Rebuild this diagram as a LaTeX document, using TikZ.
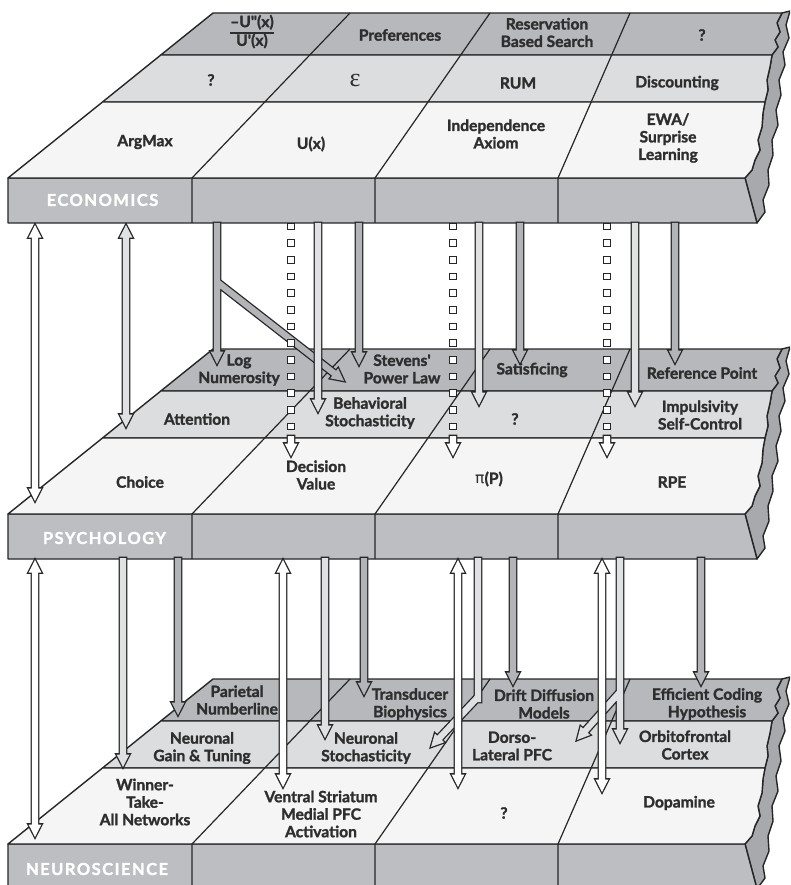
\documentclass[tikz,border=0pt]{standalone}
\usepackage{fontspec}
\setmainfont{Lato}[BoldFeatures={FakeBold=1.6}]
\newfontfamily\labfont{Lato}[LetterSpace=9,BoldFeatures={FakeBold=1.6}]
\newfontfamily\dvsans{DejaVu Sans}
\newfontfamily\lserif{Liberation Serif}
\usetikzlibrary{calc,decorations.markings}
\definecolor{linec}{HTML}{262626}
\definecolor{txtc}{HTML}{2E2E2E}
\definecolor{backc}{HTML}{B7B8BB}
\definecolor{facec}{HTML}{BDBEC1}
\definecolor{midc}{HTML}{DCDDDF}
\definecolor{frontc}{HTML}{F5F5F5}
\definecolor{sidec}{HTML}{A8A9AC}
\definecolor{darkA}{HTML}{B3B4B7}
\definecolor{lightA}{HTML}{E0E1E3}
\def\arrSW{3.1pt}
\def\arrHW{6.4pt}
\def\arrHL{12.5pt}
\tikzset{
  slabline/.style={draw=linec, line width=1.4pt, line join=round},
  divline/.style={draw=linec, line width=1.2pt},
  txt/.style={font=\fontsize{15.6}{17.5}\selectfont\bfseries, text=txtc, align=center, inner sep=0pt},
  seclab/.style={font=\labfont\bfseries\fontsize{16.5}{16.5}\selectfont, text=white, inner sep=0pt},
  arrbody/.style={line join=miter, preaction={draw=linec, line width=2.6pt, line join=miter}},
  sqmarks/.style={postaction={decorate}, decoration={markings,
     mark=between positions 0 and 1 step 16.67pt with {\draw[draw=linec, fill=white, line width=1.1pt] (-3.4pt,-3.4pt) rectangle (3.4pt,3.4pt);}}}
}
\newcommand\sgl[3]{($(#1)!\arrSW!90:(#2)$) -- ($(#3)!\arrSW!90:(#2)$) -- ($(#3)!\arrHW!90:(#2)$) -- (#2) -- ($(#3)!\arrHW!-90:(#2)$) -- ($(#3)!\arrSW!-90:(#2)$) -- ($(#1)!\arrSW!-90:(#2)$) -- cycle }
\newcommand\shaft[2]{($(#1)!\arrSW!90:(#2)$) -- ($(#2)!\arrSW!-90:(#1)$) -- ($(#2)!\arrSW!90:(#1)$) -- ($(#1)!\arrSW!-90:(#2)$) -- cycle }
\newcommand\dbl[4]{(#1) -- ($(#3)!\arrHW!90:(#2)$) -- ($(#3)!\arrSW!90:(#2)$) -- ($(#4)!\arrSW!90:(#2)$) -- ($(#4)!\arrHW!90:(#2)$) -- (#2) -- ($(#4)!\arrHW!-90:(#2)$) -- ($(#4)!\arrSW!-90:(#2)$) -- ($(#3)!\arrSW!-90:(#2)$) -- ($(#3)!\arrHW!-90:(#2)$) -- cycle }
\newcommand\sarrow[4]{\coordinate (#4hb) at ($(#3)!\arrHL!(#2)$);\path[arrbody, fill=#1] \sgl{#2}{#3}{#4hb};}
\newcommand\darrow[4]{\coordinate (#4ha) at ($(#2)!\arrHL!(#3)$);\coordinate (#4hb) at ($(#3)!\arrHL!(#2)$);\path[arrbody, fill=#1] \dbl{#2}{#3}{#4ha}{#4hb};}
\newcommand\sqchain[2]{\coordinate (#2s) at (#1,226.5);\coordinate (#2e) at (#1,427);
  \path[sqmarks] (#2s) -- (#2e);
  \coordinate (#2h1) at (#1,436);\coordinate (#2h2) at (#1,456);
  \sarrow{white}{#2h1}{#2h2}{#2}}
\newcommand\drawslab[1]{%
\begin{scope}[shift={(0,#1)}]
 \filldraw[slabline, fill=sidec] (782,13) -- (790,11) -- (786,25) -- (789,38) -- (783,52) -- (785,65) -- (779,80) -- (781,95) -- (776,110) -- (778,125) -- (772,140) -- (773,155) -- (768,170) -- (769,185) -- (763,200) -- (765,212) -- (757,223) -- (745,178) -- (752,170) -- (755,160) -- (760,150) -- (758,140) -- (762,127) -- (763,113) -- (765,102) -- (768,90) -- (767,80) -- (770,67) -- (772,55) -- (778,47) -- (775,40) -- (780,32) -- (777,23) -- cycle;
 \filldraw[slabline, fill=facec] (8,178) -- (745,178) -- (757,223) -- (8,223) -- cycle;
 \filldraw[slabline, fill=backc] (213,13) -- (782,13) -- (777,23) -- (780,32) -- (775,40) -- (778,47) -- (772,55) -- (160.8,55) -- cycle;
 \filldraw[slabline, fill=midc] (160.8,55) -- (772,55) -- (770,67) -- (767,80) -- (768,90) -- (765,102) -- (102.5,102) -- cycle;
 \filldraw[slabline, fill=frontc] (102.5,102) -- (765,102) -- (763,113) -- (762,127) -- (758,140) -- (760,150) -- (755,160) -- (752,170) -- (745,178) -- (8,178) -- cycle;
 \draw[divline] (350,13) -- (192,178) -- (192,223);
 \draw[divline] (490,13) -- (375,178) -- (375,223);
 \draw[divline] (630,13) -- (558,178) -- (558,223);
\end{scope}}
\begin{document}
\begin{tikzpicture}[x=1pt,y=-1pt]
\useasboundingbox (0,0) rectangle (790,885);
\clip (0,0) rectangle (790,885);
\drawslab{0}
\drawslab{336}
\drawslab{666}
% ---------- Economics texts
\node[txt] (eRA) at (252,33) {\setlength{\arrayrulewidth}{1.2pt}\begin{tabular}{@{}c@{}}\textendash U\textquotedbl(x)\\\hline U\textquotesingle(x)\end{tabular}};
\node[txt] (ePref) at (400,35) {Preferences};
\node[txt] (eRes) at (547,32.5) {Reservation\\Based Search};
\node[txt] (eQa) at (702,35) {?};
\node[txt] (eQb) at (211,80) {?};
\node[txt] (eEps) at (355,81) {\lserif\mdseries\fontsize{26}{26}\selectfont ε};
\node[txt] (eRUM) at (518,83) {RUM};
\node[txt] (eDisc) at (677,83) {Discounting};
\node[txt] (eArg) at (145,142) {ArgMax};
\node[txt] (eU) at (311,144) {U(x)};
\node[txt] (eInd) at (496,134) {Independence\\Axiom};
\node[txt] (eEWA) at (668,138) {EWA/\\Surprise\\Learning};
\node[seclab] (eLab) at (102.5,200) {ECONOMICS};
% ---------- Psychology texts
\node[txt] (pLog) at (239,370) {Log\\Numerosity};
\node[txt] (pSte) at (402,369) {Stevens\textquotesingle\\Power Law};
\node[txt] (pSat) at (532,370) {Satisficing};
\node[txt] (pRef) at (702,373) {Reference Point};
\node[txt] (pAtt) at (197,419) {Attention};
\node[txt] (pBeh) at (370,413) {Behavioral\\Stochasticity};
\node[txt] (pQ) at (515,419) {?};
\node[txt] (pImp) at (700,415) {Impulsivity\\Self-Control};
\node[txt] (pCho) at (140,482) {Choice};
\node[txt] (pDec) at (316,475) {Decision\\Value};
\node[txt] (pPi) at (489,479) {{\dvsans\mdseries π}(P)};
\node[txt] (pRPE) at (672,482) {RPE};
\node[seclab] (pLab) at (104.5,538) {PSYCHOLOGY};
% ---------- Neuroscience texts
\node[txt] (nPar) at (237,700) {Parietal\\Numberline};
\node[txt] (nTra) at (410,704) {Transducer\\Biophysics};
\node[txt] (nDri) at (544,704) {Drift Diffusion\\Models};
\node[txt] (nEff) at (707,704) {Efficient Coding\\Hypothesis};
\node[txt] (nGain) at (202,748) {Neuronal\\Gain \& Tuning};
\node[txt] (nSto) at (366,748) {Neuronal\\Stochasticity};
\node[txt] (nDor) at (512,746) {Dorso-\\Lateral PFC};
\node[txt] (nOrb) at (685,745) {Orbitofrontal\\Cortex};
\node[txt] (nWin) at (145,802) {Winner-\\Take-\\All Networks};
\node[txt] (nVen) at (321,814) {Ventral Striatum\\Medial PFC\\Activation};
\node[txt] (nQ) at (504,813) {?};
\node[txt] (nDop) at (679,803) {Dopamine};
\node[seclab] (nLab) at (97,869) {NEUROSCIENCE};
% ---------- Arrows Economics -> Psychology
\coordinate (c1) at (217,223); \coordinate (c2) at (217,364);
\coordinate (c3) at (217,282); \coordinate (c4) at (344,381);
\coordinate (chb) at ($(c2)!\arrHL!(c1)$); \coordinate (cbhb) at ($(c4)!\arrHL!(c3)$);
\path[arrbody, fill=darkA] \sgl{c3}{c4}{cbhb} \sgl{c1}{c2}{chb};
\sqchain{291}{d}
\sqchain{453}{g}
\sqchain{607}{j}
\coordinate (e1) at (318,223); \coordinate (e2) at (318,412); \sarrow{lightA}{e1}{e2}{e}
\coordinate (f1) at (359,223); \coordinate (f2) at (359,365); \sarrow{darkA}{f1}{f2}{f}
\coordinate (h1) at (479,223); \coordinate (h2) at (479,405); \sarrow{lightA}{h1}{h2}{h}
\coordinate (i1) at (520,223); \coordinate (i2) at (520,363); \sarrow{darkA}{i1}{i2}{i}
\coordinate (k1) at (635,223); \coordinate (k2) at (635,405); \sarrow{lightA}{k1}{k2}{k}
\coordinate (l1) at (675,223); \coordinate (l2) at (675,363); \sarrow{darkA}{l1}{l2}{l}
\coordinate (a1) at (35,225); \coordinate (a2) at (35,501); \darrow{white}{a1}{a2}{a}
\coordinate (b1) at (126,225); \coordinate (b2) at (126,427); \darrow{lightA}{b1}{b2}{b}
% ---------- Arrows Psychology -> Neuroscience
\coordinate (n1) at (123,558); \coordinate (n2) at (123,767); \sarrow{lightA}{n1}{n2}{n}
\coordinate (o1) at (178,558); \coordinate (o2) at (178,715); \sarrow{darkA}{o1}{o2}{o}
\coordinate (q1) at (325,558); \coordinate (q2) at (325,738); \sarrow{lightA}{q1}{q2}{q}
\coordinate (r1) at (364,558); \coordinate (r2) at (364,695); \sarrow{darkA}{r1}{r2}{r}
\coordinate (t1) at (478,558); \coordinate (t2) at (478,702);
\coordinate (t3) at (478,697); \coordinate (t4) at (431,747);
\coordinate (thb) at ($(t4)!\arrHL!(t3)$);
\path[arrbody, fill=lightA] \shaft{t1}{t2} \sgl{t3}{t4}{thb};
\coordinate (u1) at (513,558); \coordinate (u2) at (513,685); \sarrow{darkA}{u1}{u2}{u}
\coordinate (w1) at (620,558); \coordinate (w2) at (620,742);
\coordinate (w3) at (620,692); \coordinate (w4) at (577,740);
\coordinate (whb) at ($(w2)!\arrHL!(w1)$); \coordinate (wbhb) at ($(w4)!\arrHL!(w3)$);
\path[arrbody, fill=lightA] \sgl{w3}{w4}{wbhb} \sgl{w1}{w2}{whb};
\coordinate (x1) at (701,558); \coordinate (x2) at (701,685); \sarrow{darkA}{x1}{x2}{x}
\coordinate (m1) at (35,560); \coordinate (m2) at (35,837); \darrow{white}{m1}{m2}{m}
\coordinate (p1) at (283,560); \coordinate (p2) at (283,787); \darrow{white}{p1}{p2}{p}
\coordinate (s1) at (458,560); \coordinate (s2) at (458,787); \darrow{white}{s1}{s2}{s}
\coordinate (v1) at (602,560); \coordinate (v2) at (602,792); \darrow{white}{v1}{v2}{v}
\end{tikzpicture}
\end{document}
